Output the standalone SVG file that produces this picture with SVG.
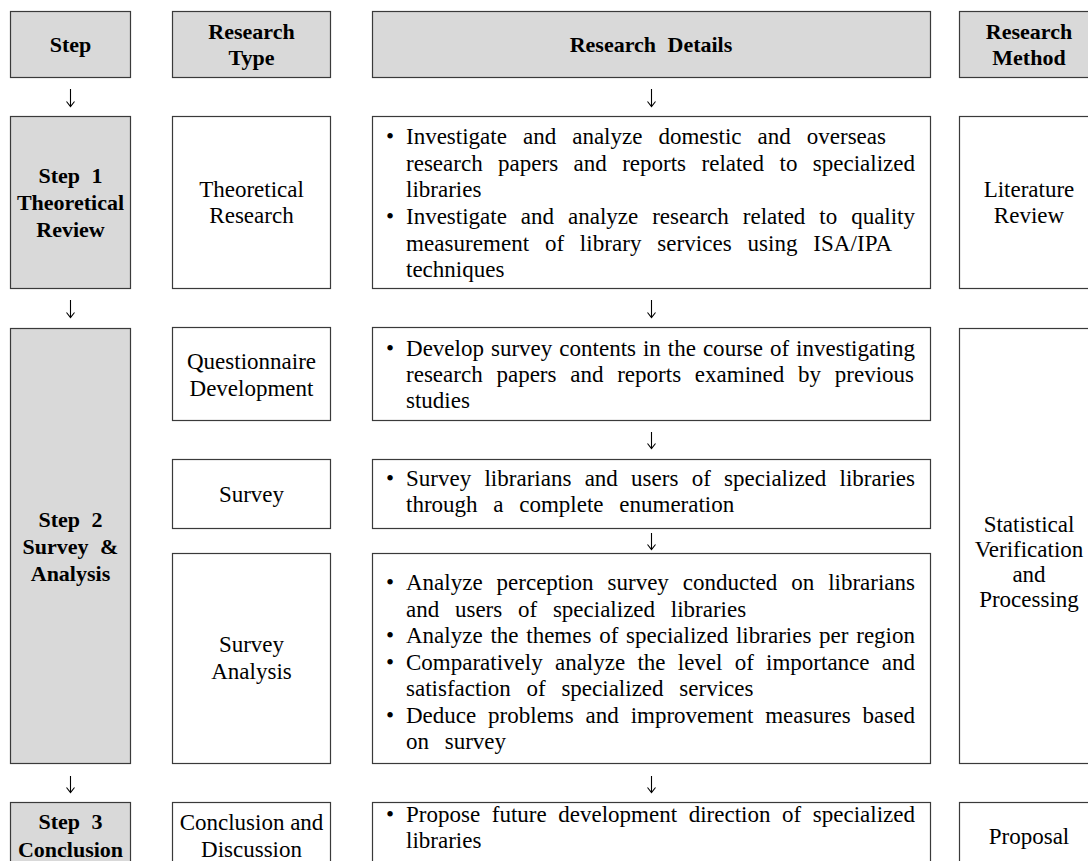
<svg xmlns="http://www.w3.org/2000/svg" width="1088" height="861" viewBox="0 0 1088 861" font-family="'Liberation Serif', 'Times New Roman', 'DejaVu Serif', serif">
<style>
.g{fill:#d9d9d9;stroke:#3a3a3a;stroke-width:1.2}
.w{fill:#ffffff;stroke:#3a3a3a;stroke-width:1.2}
.b{font-weight:bold;font-size:22px;fill:#000;text-anchor:middle}
.t{font-size:23px;fill:#000;text-anchor:middle}
.d{font-size:23px;fill:#000}
.bu{font-size:23px;fill:#000;text-anchor:middle}
.a{fill:none;stroke:#000;stroke-width:1.1}
</style>
<rect width="1088" height="861" fill="#ffffff"/>

<g id="hdr-step"><rect class="g" x="10.5" y="11.5" width="120" height="66"/><text class="b" x="70.5" y="52">Step</text></g>
<g id="hdr-type"><rect class="g" x="172.5" y="11.5" width="158" height="66"/><text class="b" x="251.5" y="39">Research</text><text class="b" x="251.5" y="65">Type</text></g>
<g id="hdr-details"><rect class="g" x="372.5" y="11.5" width="558" height="66"/><text class="b" x="651" y="52" style="word-spacing:6px">Research Details</text></g>
<g id="hdr-method"><rect class="g" x="959.5" y="11.5" width="140" height="66"/><text class="b" x="1029" y="39">Research</text><text class="b" x="1029" y="65">Method</text></g>

<g id="step1"><rect class="g" x="10.5" y="116.5" width="120" height="172"/><text class="b" x="70.5" y="183" style="word-spacing:6px">Step 1</text><text class="b" x="70.5" y="210">Theoretical</text><text class="b" x="70.5" y="237">Review</text></g>
<g id="type-theory"><rect class="w" x="172.5" y="116.5" width="158" height="172"/><text class="t" x="251.5" y="197">Theoretical</text><text class="t" x="251.5" y="223">Research</text></g>
<g id="det-theory"><rect class="w" x="372.5" y="116.5" width="558" height="172"/>
<text class="bu" x="390" y="144">•</text>
<text class="d" x="406" y="144" style="word-spacing:10.3px" textLength="480" lengthAdjust="spacing">Investigate and analyze domestic and overseas</text>
<text class="d" x="406" y="171" style="word-spacing:9.7px" textLength="509" lengthAdjust="spacing">research papers and reports related to specialized</text>
<text class="d" x="406" y="197">libraries</text>
<text class="bu" x="390" y="224">•</text>
<text class="d" x="406" y="224" style="word-spacing:8.2px" textLength="509" lengthAdjust="spacing">Investigate and analyze research related to quality</text>
<text class="d" x="406" y="251" style="word-spacing:9.9px" textLength="486" lengthAdjust="spacing">measurement of library services using ISA/IPA</text>
<text class="d" x="406" y="277">techniques</text></g>
<g id="meth-lit"><rect class="w" x="959.5" y="116.5" width="140" height="172"/><text class="t" x="1029" y="197">Literature</text><text class="t" x="1029" y="223">Review</text></g>

<g id="step2"><rect class="g" x="10.5" y="328.5" width="120" height="435"/><text class="b" x="70.5" y="527" style="word-spacing:6px">Step 2</text><text class="b" x="70.5" y="554" style="word-spacing:6px">Survey &amp;</text><text class="b" x="70.5" y="581">Analysis</text></g>
<g id="type-quest"><rect class="w" x="172.5" y="327.5" width="158" height="93"/><text class="t" x="251.5" y="369">Questionnaire</text><text class="t" x="251.5" y="396">Development</text></g>
<g id="det-quest"><rect class="w" x="372.5" y="327.5" width="558" height="93"/>
<text class="bu" x="390" y="356">•</text>
<text class="d" x="406" y="356" style="word-spacing:1.2px" textLength="509" lengthAdjust="spacing">Develop survey contents in the course of investigating</text>
<text class="d" x="406" y="382" style="word-spacing:8px" textLength="508" lengthAdjust="spacing">research papers and reports examined by previous</text>
<text class="d" x="406" y="408">studies</text></g>
<g id="type-survey"><rect class="w" x="172.5" y="459.5" width="158" height="69"/><text class="t" x="251.5" y="502">Survey</text></g>
<g id="det-survey"><rect class="w" x="372.5" y="459.5" width="558" height="69"/>
<text class="bu" x="390" y="486">•</text>
<text class="d" x="406" y="486" style="word-spacing:7.5px" textLength="509" lengthAdjust="spacing">Survey librarians and users of specialized libraries</text>
<text class="d" x="406" y="512" style="word-spacing:10px">through a complete enumeration</text></g>
<g id="type-analysis"><rect class="w" x="172.5" y="553.5" width="158" height="210"/><text class="t" x="251.5" y="652">Survey</text><text class="t" x="251.5" y="679">Analysis</text></g>
<g id="det-analysis"><rect class="w" x="372.5" y="553.5" width="558" height="210"/>
<text class="bu" x="390" y="590">•</text>
<text class="d" x="406" y="590" style="word-spacing:8.2px" textLength="509" lengthAdjust="spacing">Analyze perception survey conducted on librarians</text>
<text class="d" x="406" y="616.5" style="word-spacing:10px">and users of specialized libraries</text>
<text class="bu" x="390" y="643">•</text>
<text class="d" x="406" y="643" style="word-spacing:2px" textLength="509" lengthAdjust="spacing">Analyze the themes of specialized libraries per region</text>
<text class="bu" x="390" y="669.5">•</text>
<text class="d" x="406" y="669.5" style="word-spacing:6.5px" textLength="509" lengthAdjust="spacing">Comparatively analyze the level of importance and</text>
<text class="d" x="406" y="696" style="word-spacing:10px">satisfaction of specialized services</text>
<text class="bu" x="390" y="722.5">•</text>
<text class="d" x="406" y="722.5" style="word-spacing:6.1px" textLength="509" lengthAdjust="spacing">Deduce problems and improvement measures based</text>
<text class="d" x="406" y="749" style="word-spacing:10px">on survey</text></g>
<g id="meth-stat"><rect class="w" x="959.5" y="328.5" width="140" height="435"/><text class="t" x="1029" y="532">Statistical</text><text class="t" x="1029" y="557">Verification</text><text class="t" x="1029" y="582">and</text><text class="t" x="1029" y="607">Processing</text></g>

<g id="step3"><rect class="g" x="10.5" y="802.5" width="120" height="80"/><text class="b" x="70.5" y="829" style="word-spacing:6px">Step 3</text><text class="b" x="70.5" y="857">Conclusion</text></g>
<g id="type-concl"><rect class="w" x="172.5" y="802.5" width="158" height="80"/><text class="t" x="251.5" y="830">Conclusion and</text><text class="t" x="251.5" y="857">Discussion</text></g>
<g id="det-concl"><rect class="w" x="372.5" y="802.5" width="558" height="80"/>
<text class="bu" x="390" y="822">•</text>
<text class="d" x="406" y="822" style="word-spacing:5.9px" textLength="509" lengthAdjust="spacing">Propose future development direction of specialized</text>
<text class="d" x="406" y="848">libraries</text></g>
<g id="meth-prop"><rect class="w" x="959.5" y="802.5" width="140" height="80"/><text class="t" x="1029" y="844">Proposal</text></g>

<g id="connectors">
<path class="a" d="M70.5,89V106M66.5,101.5L70.5,106.5L74.5,101.5"/>
<path class="a" d="M70.5,300V317M66.5,312.5L70.5,317.5L74.5,312.5"/>
<path class="a" d="M70.5,776V792M66.5,787.5L70.5,792.5L74.5,787.5"/>
<path class="a" d="M651.5,89V106M647.5,101.5L651.5,106.5L655.5,101.5"/>
<path class="a" d="M651.5,300V317M647.5,312.5L651.5,317.5L655.5,312.5"/>
<path class="a" d="M651.5,432V448M647.5,443.5L651.5,448.5L655.5,443.5"/>
<path class="a" d="M651.5,533V549M647.5,544.5L651.5,549.5L655.5,544.5"/>
<path class="a" d="M651.5,776V792M647.5,787.5L651.5,792.5L655.5,787.5"/>
</g>
</svg>
